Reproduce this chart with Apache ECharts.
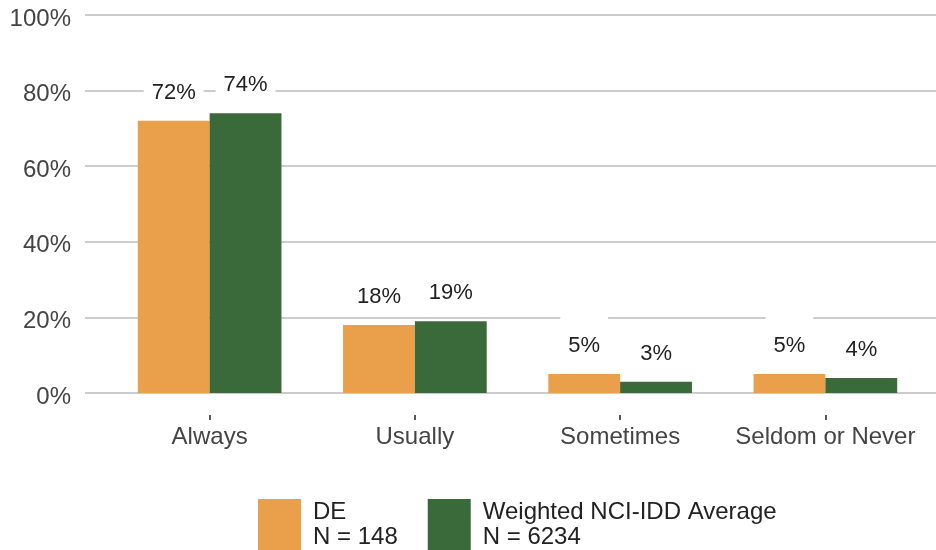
<!DOCTYPE html>
<html>
<head>
<meta charset="utf-8">
<style>
  html, body { margin: 0; padding: 0; background: #ffffff; }
  #chart { width: 936px; height: 550px; }
</style>
<script src="https://cdn.jsdelivr.net/npm/echarts@6/dist/echarts.min.js"></script>
</head>
<body>
<div id="chart"></div>
<script>
// Response categories on the x axis
const categories = ['Always', 'Usually', 'Sometimes', 'Seldom or Never'];

// Percent of respondents per category
const deValues = [72, 18, 5, 5];
const nciValues = [74, 19, 3, 4];

// Series names and sample sizes shown in the legend
const seriesNames = ['DE', 'Weighted NCI-IDD Average'];
const sampleSizes = [148, 6234];

// Y axis tick values (percent)
const yTicks = [0, 20, 40, 60, 80, 100];

const FONT = 'Arial, "Liberation Sans", sans-serif';
const colors = ['#EAA04B', '#3A6A3A'];

const chart = echarts.init(document.getElementById('chart'), null, { renderer: 'canvas' });

const labelStyle = {
  show: true,
  position: 'top',
  distance: 17,
  formatter: p => p.value + '%',
  fontFamily: FONT,
  fontSize: 22,
  lineHeight: 22,
  color: '#222222',
  backgroundColor: '#ffffff',
  padding: [19, 8, 0, 8]
};

chart.setOption({
  animation: false,
  backgroundColor: '#ffffff',
  textStyle: { fontFamily: FONT },
  grid: [
    // wide grid carrying the percent gridlines and tick labels
    { left: 85, right: 0, top: 15, height: 378 },
    // grid holding the bar groups
    { left: 107, right: 8, top: 15, height: 378 },
    // grid whose bottom edge carries the short category ticks below the baseline
    { left: 107, right: 8, top: 15, height: 400 }
  ],
  legend: {
    data: seriesNames,
    left: 258,
    top: 497,
    padding: 0,
    icon: 'rect',
    itemWidth: 43,
    itemHeight: 51,
    itemGap: 30,
    selectedMode: false,
    formatter: name => name + '\nN = ' + sampleSizes[seriesNames.indexOf(name)],
    textStyle: {
      fontFamily: FONT,
      fontSize: 24,
      lineHeight: 25,
      color: '#222222',
      padding: [5, 0, 0, 7]
    }
  },
  xAxis: [
    { gridIndex: 0, type: 'value', show: false, min: 0, max: 1 },
    {
      gridIndex: 1,
      type: 'category',
      data: categories,
      offset: 22,
      axisLine: { show: false },
      axisTick: { show: false },
      axisLabel: { interval: 0, margin: 10, fontFamily: FONT, fontSize: 24, color: '#444444' },
      splitLine: { show: false }
    },
    {
      gridIndex: 2,
      type: 'category',
      data: categories,
      axisLine: { show: false },
      axisTick: { show: true, interval: 0, alignWithLabel: true, length: 5, lineStyle: { color: '#222222', width: 1.5 } },
      axisLabel: { show: false },
      splitLine: { show: false }
    }
  ],
  yAxis: [
    {
      gridIndex: 0,
      type: 'value',
      min: yTicks[0],
      max: yTicks[yTicks.length - 1],
      interval: yTicks[1] - yTicks[0],
      axisLine: { show: false },
      axisTick: { show: false },
      axisLabel: {
        formatter: '{value}%',
        margin: 14,
        fontFamily: FONT,
        fontSize: 24,
        color: '#444444',
        verticalAlign: 'top',
        lineHeight: 8
      },
      splitLine: { show: true, lineStyle: { color: '#cccccc', width: 2 } }
    },
    {
      gridIndex: 1,
      type: 'value',
      min: yTicks[0],
      max: yTicks[yTicks.length - 1],
      show: false
    },
    {
      gridIndex: 2,
      type: 'value',
      min: 0,
      max: 1,
      show: false
    }
  ],
  series: [
    {
      name: seriesNames[0],
      type: 'bar',
      xAxisIndex: 1,
      yAxisIndex: 1,
      data: deValues,
      barGap: '0%',
      barCategoryGap: '30%',
      itemStyle: { color: colors[0] },
      label: labelStyle
    },
    {
      name: seriesNames[1],
      type: 'bar',
      xAxisIndex: 1,
      yAxisIndex: 1,
      data: nciValues,
      barGap: '0%',
      barCategoryGap: '30%',
      itemStyle: { color: colors[1] },
      label: labelStyle
    }
  ]
});
</script>
</body>
</html>
